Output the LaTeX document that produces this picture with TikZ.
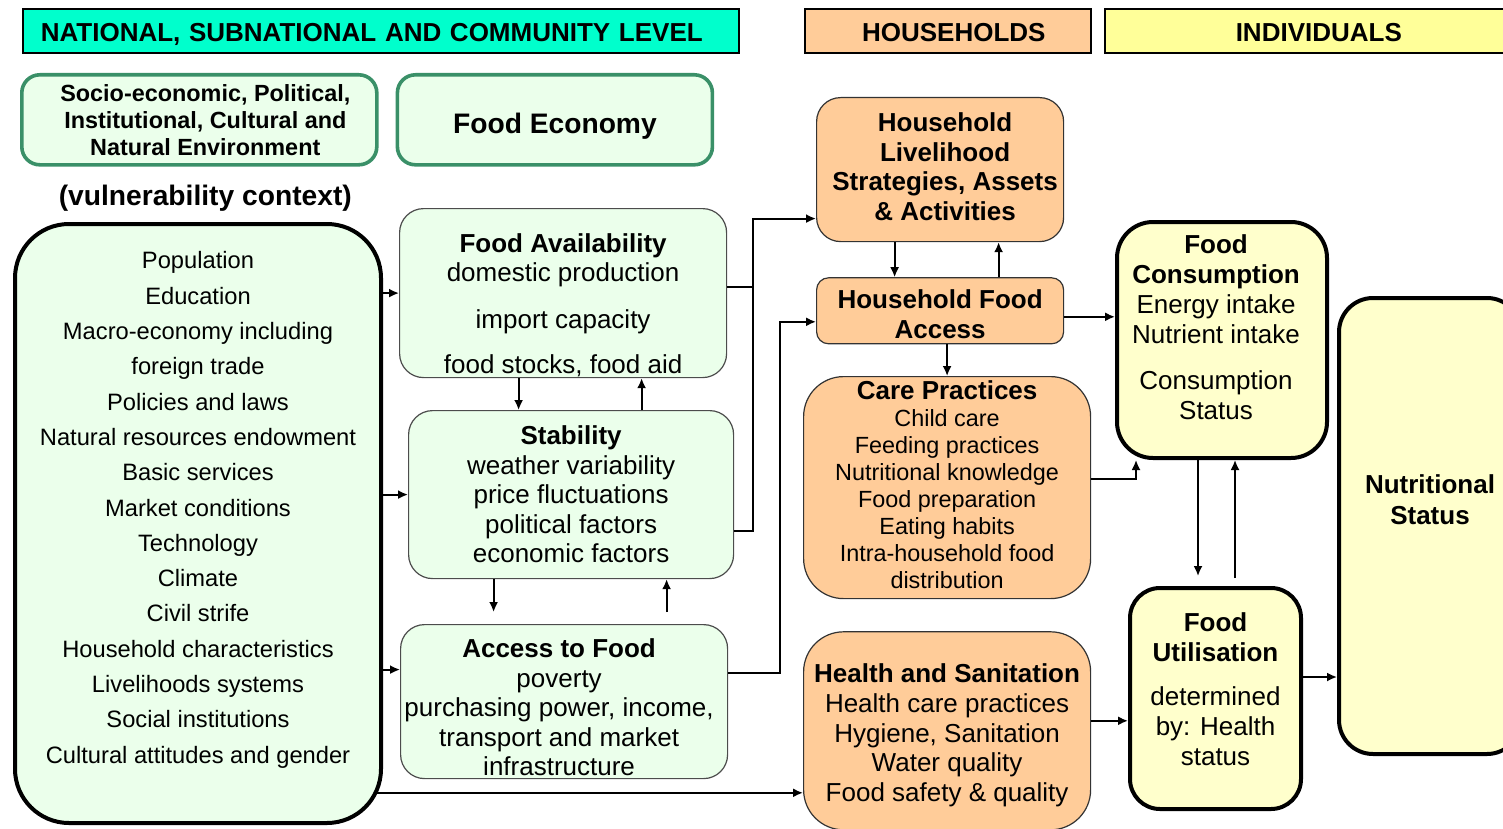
\documentclass[tikz,border=0pt]{standalone}
\usepackage{fontspec}
\setmainfont{Liberation Sans}
\usetikzlibrary{arrows.meta,positioning}
\definecolor{natcyan}{HTML}{00FFCC}
\definecolor{hhpeach}{HTML}{FFCC99}
\definecolor{indyellow}{HTML}{FFFF99}
\definecolor{indfill}{HTML}{FFFFCC}
\definecolor{palegreen}{HTML}{EBFFEB}
\definecolor{envgreen}{HTML}{3A9068}

\begin{document}
\begin{tikzpicture}[x=1pt, y=1pt, >={Latex[length=5pt,width=4.5pt]},
	bar/.style={draw, line width=0.8pt, minimum height=22pt, anchor=north west, text height=11pt, text depth=0pt, font=\fontsize{13}{15}\selectfont\bfseries},
	env/.style={draw=envgreen, line width=1.8pt, fill=palegreen, rounded corners=9pt, align=center, minimum height=45pt, anchor=north west},
	ctxbox/.style={draw, line width=2pt, fill=palegreen, rounded corners=27pt, align=center, anchor=north west, font=\fontsize{11.85}{17.65}\selectfont},
	fe/.style={draw=black!70, line width=0.6pt, fill=palegreen, rounded corners=12pt, align=center, anchor=north west, inner sep=0pt, font=\fontsize{13}{14.75}\selectfont},
	hh/.style={draw=black!80, line width=0.6pt, fill=hhpeach, align=center, anchor=north west, inner sep=0pt, font=\fontsize{13}{14.9}\selectfont},
	ind/.style={draw, line width=2pt, fill=indfill, align=center, anchor=north west, inner sep=0pt, font=\fontsize{13}{15}\selectfont},
	link/.style={->, line width=0.9pt}]
		\useasboundingbox (0,0) rectangle (751.5,-414.5);
		\clip (0,0) rectangle (751.5,-414.5);

		% level bars
		\node[bar, fill=natcyan, text width=340pt, inner xsep=9pt, align=left] (natbar) at (11,-4) {NATIONAL, SUBNATIONAL AND COMMUNITY LEVEL};
		\node[bar, fill=hhpeach, minimum width=143pt] (hhbar) at (402,-4) {\hspace{6pt}HOUSEHOLDS};
		\node[bar, fill=indyellow, minimum width=208pt] (indbar) at (552,-4) {\hspace{6pt}INDIVIDUALS};

		% national level
		\node[env, minimum width=177.5pt, font=\fontsize{11.7}{13.5}\selectfont\bfseries] (socio) at (10,-36.5) {\hspace{6pt}Socio-economic, Political,\\\hspace{6pt}Institutional, Cultural and\\\hspace{6pt}Natural Environment};
		\node[env, minimum width=157.5pt, font=\fontsize{14.1}{16}\selectfont\bfseries, right=8.5pt of socio] (foodecon) {\rule{0pt}{17pt}Food Economy};
		\node[font=\fontsize{14.1}{16}\selectfont\bfseries, below=5.5pt of socio, xshift=3pt] (vuln) {(vulnerability context)};

		\node[ctxbox, minimum width=183pt, minimum height=299.5pt] (ctx) at (6.5,-111) {Population\\Education\\Macro-economy including\\foreign trade\\Policies and laws\\Natural resources endowment\\Basic services\\Market conditions\\Technology\\Climate\\Civil strife\\Household characteristics\\Livelihoods systems\\Social institutions\\Cultural attitudes and gender\rule[-16pt]{0pt}{0pt}};

		\node[fe, minimum width=163.5pt, minimum height=84.5pt] (avail) at (199.5,-104) {\rule{0pt}{21.5pt}\textbf{Food Availability}\\domestic production\\[8.5pt]import capacity\\[8pt]food stocks, food aid};
		\node[fe, minimum width=162.5pt, minimum height=84pt] (stab) at (204,-205) {\textbf{Stability}\\weather variability\\price fluctuations\\political factors\\economic factors};
		\node[fe, minimum width=163.5pt, minimum height=77pt] (access) at (200,-312) {\rule{0pt}{15.5pt}\textbf{Access to Food}\kern5pt\\poverty\kern5pt\\purchasing power, income,\kern5pt\\transport and market\kern5pt\\infrastructure\kern5pt};

		% households
		\node[hh, rounded corners=12pt, minimum width=123.5pt, minimum height=72pt, font=\fontsize{13}{14.9}\selectfont\bfseries] (liveli) at (408,-48.5) {\hspace{5pt}Household\\\hspace{5pt}Livelihood\\\hspace{5pt}Strategies, Assets\\\hspace{5pt}\& Activities\rule[-3pt]{0pt}{0pt}};
		\node[hh, rounded corners=6pt, minimum width=123.5pt, minimum height=33pt, font=\fontsize{13}{15}\selectfont\bfseries, below=17.5pt of liveli] (hhaccess) {\rule{0pt}{13pt}Household Food\\Access};
		\node[hh, rounded corners=20pt, minimum width=143.5pt, minimum height=111pt, font=\fontsize{11.7}{13.5}\selectfont] (care) at (401.5,-188) {\textbf{\fontsize{13}{13.5}\selectfont Care Practices}\\Child care\\Feeding practices\\Nutritional knowledge\\Food preparation\\Eating habits\\Intra-household food\\distribution\rule[-3pt]{0pt}{0pt}};
		\node[hh, rounded corners=20pt, minimum width=143.5pt, minimum height=99pt, font=\fontsize{13}{14.9}\selectfont, below=16pt of care] (health) {\rule{0pt}{14pt}\textbf{Health and Sanitation}\\Health care practices\\Hygiene, Sanitation\\Water quality\\Food safety \& quality};

		% individuals
		\node[ind, rounded corners=18pt, minimum width=105pt, minimum height=118pt] (consum) at (557.5,-110) {\textbf{Food}\kern6pt\\\textbf{Consumption}\kern6pt\\Energy intake\kern6pt\\Nutrient intake\kern6pt\\[8pt]Consumption\kern6pt\\Status\kern6pt\rule[-13pt]{0pt}{0pt}};
		\node[ind, rounded corners=15pt, minimum width=85.5pt, minimum height=110.5pt] (util) at (564,-293) {\textbf{Food}\\\textbf{Utilisation}\\[7pt]determined\\by: Health\\status\rule[-9pt]{0pt}{0pt}};
		\node[ind, rounded corners=17pt, minimum width=91pt, minimum height=228pt, font=\fontsize{13}{15.5}\selectfont\bfseries] (nutri) at (668.5,-148) {Nutritional\\Status\rule[-26.5pt]{0pt}{0pt}};

		% context to pillars
		\coordinate (accin) at ([yshift=16pt]access.west);
		\coordinate (hsin) at ([yshift=-31pt]health.west);
		\draw[link] (ctx.east |- avail.west) -- (avail.west);
		\draw[link] (ctx.east |- stab.west) -- (stab.west);
		\draw[link] (ctx.east |- accin) -- (accin);
		\draw[link, shorten <=-3pt] (ctx.east |- hsin) -- (hsin);

		% between pillars
		\draw[link] ([xshift=-22.25pt]avail.south) -- ([xshift=-26.25pt]stab.north);
		\draw[link] ([xshift=35.25pt]stab.north) -- ([xshift=39.25pt]avail.south);
		\draw[link, shorten >=6pt] ([xshift=-38.75pt]stab.south) -- ([xshift=-35.25pt]access.north);
		\draw[link, shorten <=6pt] ([xshift=51.25pt]access.north) -- ([xshift=47.75pt]stab.south);

		% pillars to households
		\coordinate (livin) at ([yshift=-24.5pt]liveli.west);
		\draw[link] ([yshift=3pt]avail.east) -- ++(13,0) coordinate (join) |- (livin);
		\draw[line width=0.9pt] ([yshift=-18pt]stab.east) -| (join);
		\draw[link] ([yshift=14.5pt]access.east) -- ++(26,0) |- ([yshift=-5.5pt]hhaccess.west);

		% households
		\draw[link] ([xshift=-22.75pt]liveli.south) -- ([xshift=-22.75pt]hhaccess.north);
		\draw[link] ([xshift=29.25pt]hhaccess.north) -- ([xshift=29.25pt]liveli.south);
		\draw[link] (hhaccess.south -| care.north) -- (care.north);

		% households to individuals
		\coordinate (hhout) at ([yshift=-3pt]hhaccess.east);
		\coordinate (hsout) at ([yshift=5pt]health.east);
		\coordinate (fuout) at ([yshift=10.75pt]util.east);
		\draw[link] (hhout) -- (hhout -| consum.west);
		\draw[link] ([yshift=4.5pt]care.east) -| ([xshift=-43pt]consum.south);
		\draw[link] (hsout) -- (hsout -| util.west);
		\draw[link, shorten >=5pt] ([xshift=-12pt]consum.south) -- ([xshift=-8.75pt]util.north);
		\draw[link, shorten <=4pt] ([xshift=9.75pt]util.north) -- ([xshift=6.5pt]consum.south);
		\draw[link] (fuout) -- (fuout -| nutri.west);
	\end{tikzpicture}
\end{document}
